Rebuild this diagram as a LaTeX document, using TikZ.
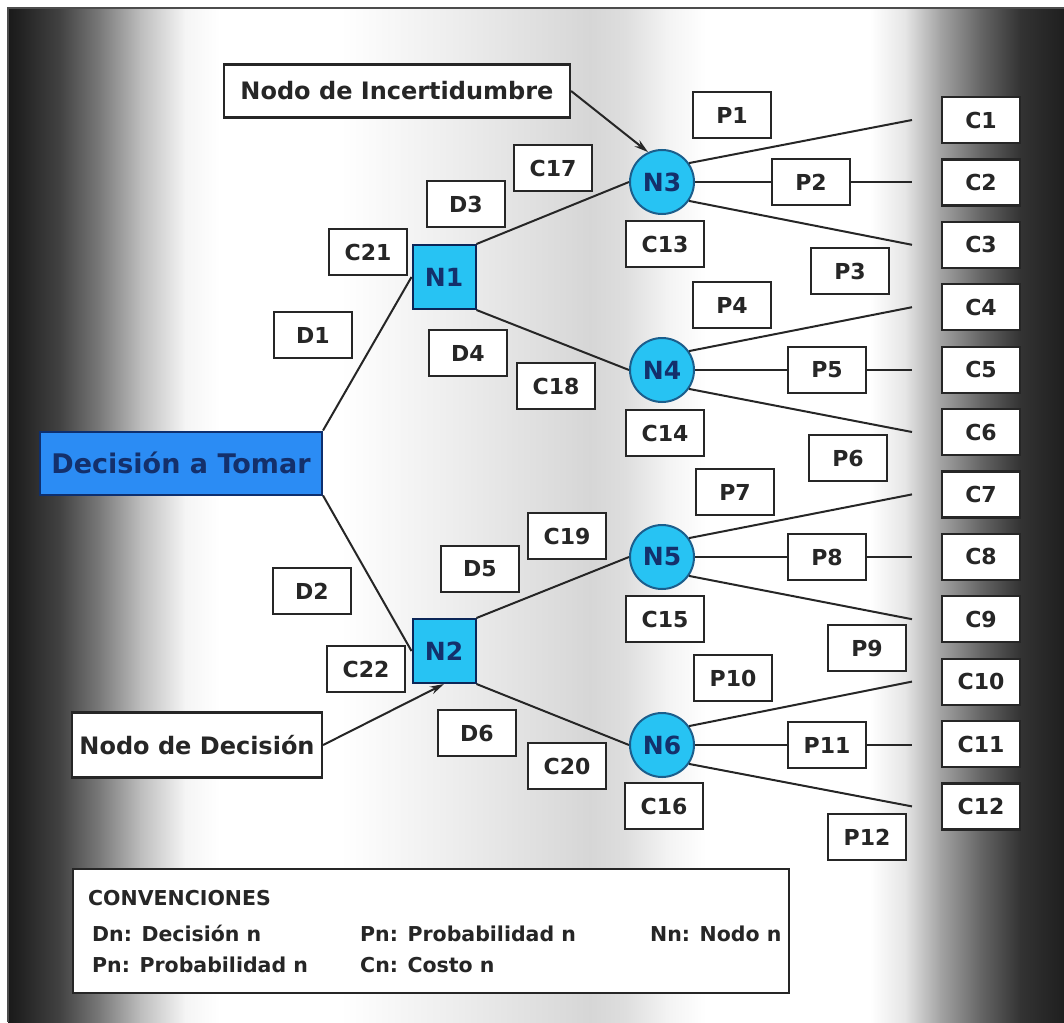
\documentclass[tikz,border=0pt]{standalone}
\usepackage{fontspec}
\setmainfont{DejaVu Sans}
\usetikzlibrary{arrows.meta}

\definecolor{cyanfill}{HTML}{27C3F3}
\definecolor{cyanedge}{HTML}{1B5E8C}
\definecolor{navytext}{HTML}{14306B}
\definecolor{azure}{HTML}{2B8CF4}
\definecolor{azureedge}{HTML}{0E2F6E}
\definecolor{ink}{HTML}{262626}

\tikzset{
  lbl/.style={draw=ink, line width=2.2pt, fill=white, minimum width=78pt,
    minimum height=46pt, inner sep=0pt, text=ink,
    font=\bfseries\fontsize{22}{24}\selectfont},
  note/.style={draw=ink, line width=2.2pt, fill=white, inner sep=0pt, text=ink,
    font=\bfseries\fontsize{24}{26}\selectfont},
  chance/.style={circle, draw=cyanedge, line width=2pt, fill=cyanfill,
    minimum size=64pt, inner sep=0pt, text=navytext,
    font=\bfseries\fontsize{25}{27}\selectfont},
  decsq/.style={rectangle, draw=azureedge!80!black, line width=2pt, fill=cyanfill,
    minimum width=63pt, minimum height=64pt, inner sep=0pt, text=navytext,
    font=\bfseries\fontsize{25}{27}\selectfont},
  root/.style={rectangle, draw=azureedge, line width=2pt, fill=azure,
    minimum width=282pt, minimum height=63pt, inner sep=0pt, text=navytext,
    font=\bfseries\fontsize{27}{29}\selectfont},
  branch/.style={draw=ink, line width=2pt},
  pointer/.style={draw=ink, line width=2pt, -{Stealth[length=14pt,width=8pt]}},
  legtext/.style={anchor=base west, inner sep=0pt, text=ink,
    font=\bfseries\fontsize{20.5}{22}\selectfont},
}

\begin{document}
\begin{tikzpicture}[x=1pt,y=-1pt]
\useasboundingbox (0,0) rectangle (1064,1022);
\fill[white] (0,0) rectangle (1064,1022);

% metallic backdrop, built from horizontal gradient strips
\foreach \xa/\ka/\xb/\kb in {8/90/22/86, 22/86/60/74, 60/74/100/52, 100/52/140/26,
    140/26/185/4, 185/4/220/0, 220/0/340/0, 340/0/470/8, 470/8/590/16,
    590/16/625/13, 625/13/665/5, 665/5/705/0, 705/0/870/0, 870/0/905/10,
    905/10/940/36, 940/36/980/60, 980/60/1020/80, 1020/80/1064/88}
  \shade[left color=black!\ka, right color=black!\kb]
    (\xa,8) rectangle (\xb+0.6,1022);
\draw[black!70, line width=2pt] (8,1022) -- (8,8) -- (1064,8);

% end points of the outcome branches
\foreach \k in {1,...,12}
  \coordinate (e\k) at (912,{120+(\k-1)*62.4});

% decision and chance nodes
\node[root] (dt) at (181,463) {Decisión a Tomar};
\node[decsq] (n1) at (444,277) {N1};
\node[decsq] (n2) at (444,651) {N2};
\node[chance] (n3) at (662,182) {N3};
\node[chance] (n4) at (662,370) {N4};
\node[chance] (n5) at (662,557) {N5};
\node[chance] (n6) at (662,745) {N6};

% callout boxes
\node[note, minimum width=346pt, minimum height=53pt] (inc) at (397,91) {Nodo de Incertidumbre};
\node[note, minimum width=250pt, minimum height=65pt] (nd) at (197,745) {Nodo de Decisión};

% decision branches
\draw[branch] (dt.north east) -- (n1.west);
\draw[branch] (dt.south east) -- (n2.west);
\draw[branch] (n1.north east) -- (n3.west);
\draw[branch] (n1.south east) -- (n4.west);
\draw[branch] (n2.north east) -- (n5.west);
\draw[branch] (n2.south east) -- (n6.west);

% probability labels
\node[lbl] (p1) at (732,115) {P1};
\node[lbl] (p2) at (811,182) {P2};
\node[lbl] (p3) at (850,271) {P3};
\node[lbl] (p4) at (732,305) {P4};
\node[lbl] (p5) at (827,370) {P5};
\node[lbl] (p6) at (848,458) {P6};
\node[lbl] (p7) at (735,492) {P7};
\node[lbl] (p8) at (827,557) {P8};
\node[lbl] (p9) at (867,648) {P9};
\node[lbl] (p10) at (733,678) {P10};
\node[lbl] (p11) at (827,745) {P11};
\node[lbl] (p12) at (867,837) {P12};

% outcome branches
\draw[branch] (n3.35) -- (e1);
\draw[branch] (n3.east) -- (p2.west);
\draw[branch] (p2.east) -- (p2.east -| e2);
\draw[branch] (n3.-35) -- (e3);
\draw[branch] (n4.35) -- (e4);
\draw[branch] (n4.east) -- (p5.west);
\draw[branch] (p5.east) -- (p5.east -| e5);
\draw[branch] (n4.-35) -- (e6);
\draw[branch] (n5.35) -- (e7);
\draw[branch] (n5.east) -- (p8.west);
\draw[branch] (p8.east) -- (p8.east -| e8);
\draw[branch] (n5.-35) -- (e9);
\draw[branch] (n6.35) -- (e10);
\draw[branch] (n6.east) -- (p11.west);
\draw[branch] (p11.east) -- (p11.east -| e11);
\draw[branch] (n6.-35) -- (e12);

% pointers from the callouts
\draw[pointer] (inc.east) -- (n3.115);
\draw[pointer] (nd.east) -- (n2.south);

% cost and decision labels
\foreach \k in {1,...,12}
  \node[lbl] (c\k) at (981,{120+(\k-1)*62.4}) {C\k};
\node[lbl] (c13) at (665,244) {C13};
\node[lbl] (c14) at (665,433) {C14};
\node[lbl] (c15) at (665,619) {C15};
\node[lbl] (c16) at (664,806) {C16};
\node[lbl] (c17) at (553,168) {C17};
\node[lbl] (c18) at (556,386) {C18};
\node[lbl] (c19) at (567,536) {C19};
\node[lbl] (c20) at (567,766) {C20};
\node[lbl] (c21) at (368,252) {C21};
\node[lbl] (c22) at (366,669) {C22};
\node[lbl] (d1) at (313,335) {D1};
\node[lbl] (d2) at (312,591) {D2};
\node[lbl] (d3) at (466,204) {D3};
\node[lbl] (d4) at (468,353) {D4};
\node[lbl] (d5) at (480,569) {D5};
\node[lbl] (d6) at (477,733) {D6};

% legend
\node[draw=ink, line width=2pt, fill=white, minimum width=716pt, minimum height=124pt,
  inner sep=0pt, anchor=north west] (leg) at (72,868) {};
\node[legtext] (lg0) at (88,905) {CONVENCIONES};
\node[legtext] (lg1) at (92,941) {Dn: Decisión n};
\node[legtext] (lg2) at (360,941) {Pn: Probabilidad n};
\node[legtext] (lg3) at (650,941) {Nn: Nodo n};
\node[legtext] (lg4) at (92,972) {Pn: Probabilidad n};
\node[legtext] (lg5) at (360,972) {Cn: Costo n};
\end{tikzpicture}
\end{document}
